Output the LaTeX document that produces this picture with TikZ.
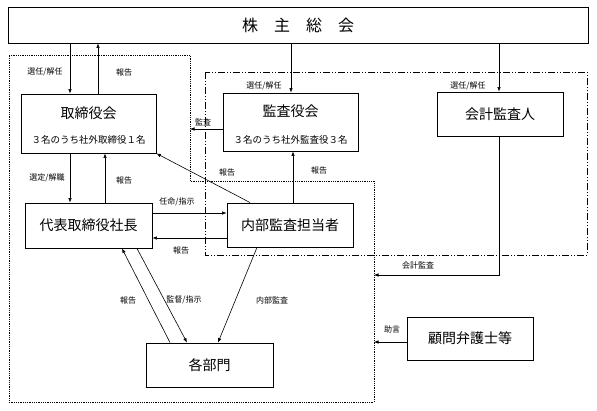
\documentclass[tikz,border=0pt]{standalone}
\usepackage{fontspec}
\setmainfont{Noto Sans CJK JP}
\usetikzlibrary{arrows.meta}
\begin{document}
\begin{tikzpicture}[x=1pt,y=-1pt,
  box/.style={draw,line width=0.9pt,inner sep=0pt},
  lbl/.style={font=\fontsize{8}{9}\selectfont,inner sep=0pt},
  arr/.style={line width=0.6pt,-{Latex[length=4.5pt,width=3.5pt]}},
  title/.style={font=\fontsize{14}{16}\selectfont}]
\useasboundingbox (0,0) rectangle (597,410);
\fill[white] (0,0) rectangle (597,410);
% group outlines
\draw[line width=0.8pt,densely dotted] (9,55) -- (190,55) -- (190,181) -- (374,181) -- (374,402) -- (9,402) -- cycle;
\draw[line width=0.7pt,dash pattern=on 7pt off 2pt on 1pt off 2pt on 1pt off 2pt] (205,72) rectangle (587,255);
% boxes
\node[box,minimum width=580pt,minimum height=36pt,font=\fontsize{16}{18}\selectfont] (gm) at (298,25) {株\hspace{1em}主\hspace{1em}総\hspace{1em}会};
\node[box,minimum width=135pt,minimum height=59pt] (bd) at (88.5,123.5) {};
\node[title] (bdt) at (88.5,113) {取締役会};
\node[font=\fontsize{9.5}{11}\selectfont] (bds) at (88.5,140) {３名のうち社外取締役１名};
\node[box,minimum width=135pt,minimum height=58pt] (ab) at (290.5,122) {};
\node[title] (abt) at (290.5,111) {監査役会};
\node[font=\fontsize{9.5}{11}\selectfont] (abs) at (290.5,140) {３名のうち社外監査役３名};
\node[box,minimum width=126pt,minimum height=44pt,title] (au) at (500,114) {会計監査人};
\node[box,minimum width=127pt,minimum height=45pt,title] (pr) at (88.5,225.5) {代表取締役社長};
\node[box,minimum width=126pt,minimum height=44pt,title] (ia) at (290,225) {内部監査担当者};
\node[box,minimum width=127pt,minimum height=44pt,title] (dp) at (209.5,365) {各部門};
\node[box,minimum width=126pt,minimum height=43pt,title] (lw) at (470,338.5) {顧問弁護士等};
% coordinates on group outline
\coordinate (bdleft) at (190,129);
\coordinate (acc) at (374,275);
\coordinate (adv) at (374,342);
% arrows
\draw[arr] (gm.south -| 70,0) -- (bd.north -| 70,0);
\draw[arr] (bd.north -| 98,0) -- (gm.south -| 98,0);
\draw[arr] (gm.south -| 291,0) -- (ab.north -| 291,0);
\draw[arr] (gm.south -| 499,0) -- (au.north -| 499,0);
\draw[arr] (ab.west |- 0,129) -- (bdleft);
\draw[arr] (bd.south -| 70,0) -- (pr.north -| 70,0);
\draw[arr] (pr.north -| 105,0) -- (bd.south -| 105,0);
\draw[arr] (ia.north -| 250,0) -- (bd.south east);
\draw[arr] (ia.north -| 293,0) -- (ab.south -| 293,0);
\draw[arr] (pr.east |- 0,213) -- (ia.west |- 0,213);
\draw[arr] (ia.west |- 0,238) -- (pr.east |- 0,238);
\draw[arr] (dp.north -| 170,0) -- (pr.south -| 122,0);
\draw[arr] (pr.south -| 137,0) -- (dp.north -| 187,0);
\draw[arr] (ia.south -| 257,0) -- (dp.north -| 218,0);
\draw[arr] (au.south -| 499,0) |- (acc);
\draw[arr] (lw.west |- adv) -- (adv);
% labels
\node[lbl] (l1) at (45,72) {選任/解任};
\node[lbl] (l2) at (124,72) {報告};
\node[lbl] (l3) at (264,86) {選任/解任};
\node[lbl] (l4) at (468,86) {選任/解任};
\node[lbl] (l5) at (203,122) {監査};
\node[lbl] (l6) at (47,178) {選定/解職};
\node[lbl] (l7) at (124,180) {報告};
\node[lbl] (l8) at (227,172) {報告};
\node[lbl] (l9) at (319,170) {報告};
\node[lbl] (l10) at (177,202) {任命/指示};
\node[lbl] (l11) at (181,250) {報告};
\node[lbl] (l12) at (128,300) {報告};
\node[lbl] (l13) at (184,300) {監督/指示};
\node[lbl] (l14) at (272,300) {内部監査};
\node[lbl] (l15) at (418,265) {会計監査};
\node[lbl] (l16) at (392,329) {助言};
\end{tikzpicture}
\end{document}
